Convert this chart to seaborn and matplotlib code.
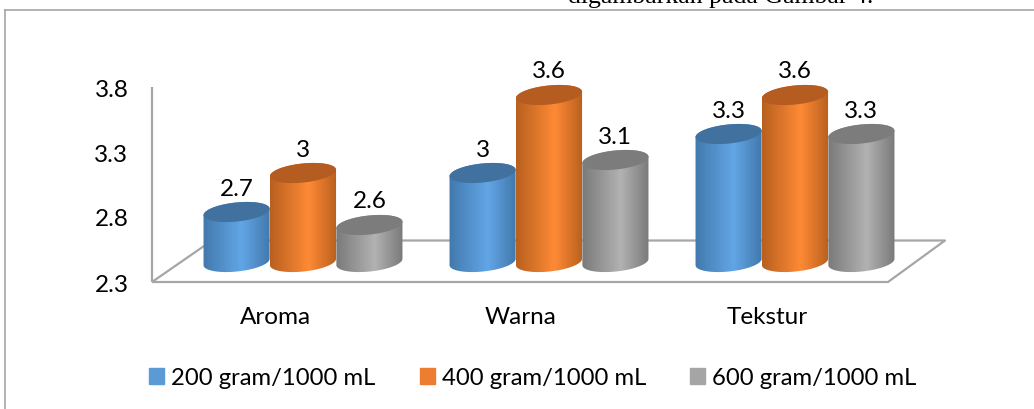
import numpy as np
import pandas as pd
import seaborn as sns
import matplotlib
matplotlib.use('Agg')
import matplotlib.pyplot as plt
from matplotlib.colors import LinearSegmentedColormap
from matplotlib.patches import Patch, Polygon

categories = ['Aroma', 'Warna', 'Tekstur']
series = ['200 gram/1000 mL', '400 gram/1000 mL', '600 gram/1000 mL']
val_200 = [2.7, 3, 3.3]
val_400 = [3, 3.6, 3.6]
val_600 = [2.6, 3.1, 3.3]
yticks = [2.3, 2.8, 3.3, 3.8]

base_colors = ['#5b9bd5', '#ed7d31', '#a5a5a5']
light_colors = ['#62a6e6', '#ff8a35', '#b2b2b2']
dark_colors = ['#4279ad', '#b8601f', '#7a7a7a']
top_colors = ['#41729f', '#b55c20', '#7c7c7c']
line_gray = '#a6a6a6'

W, H = 1034, 410
PX_X = 246.0    # pixels per category
PX_Y = 130.0    # pixels per y unit
FS = 17.5

sns.set_style('white')
plt.rcParams['font.family'] = ['Lato', 'DejaVu Sans']

df = pd.DataFrame({
    'cat': categories * 3,
    'series': np.repeat(series, 3),
    'val': val_200 + val_400 + val_600,
})

fig = plt.figure(figsize=(W / 100, H / 100), dpi=100)
ax = fig.add_axes([152 / W, 1 - 283 / H, 736 / W, 195 / H])
ax.patch.set_alpha(0)

sns.barplot(data=df, x='cat', y='val', hue='series', hue_order=series,
            palette=base_colors, width=0.81, gap=0, legend=False, ax=ax)
ax.set_xlim((152 - 303) / PX_X, (888 - 303) / PX_X)
ax.set_ylim(2.3, 3.8)


def pxline(xs, ys, color=line_gray, lw=1.6, z=0.5):
    ax.plot([x / W for x in xs], [1 - y / H for y in ys], color=color, lw=lw,
            transform=fig.transFigure, clip_on=False, zorder=z,
            solid_capstyle='butt')


# page frame and 3d floor
pxline([4, 1034], [10.5, 10.5], lw=1.2)
pxline([4.5, 4.5], [10, 410], lw=1.2)
pxline([152, 152], [88, 283])
pxline([152, 888, 945, 212, 152], [283, 283, 241.5, 241.5, 283])


def ellipse_pts(cx, cy, a, b, theta, t):
    # a, b in pixels, result in data units
    x = a * np.cos(t) * np.cos(theta) - b * np.sin(t) * np.sin(theta)
    y = a * np.cos(t) * np.sin(theta) + b * np.sin(t) * np.cos(theta)
    return cx + x / PX_X, cy + y / PX_Y


def draw_cylinder(bar, idx, z):
    # bar comes from seaborn, so x / width / height are on the axes scales
    cx = bar.get_x() + bar.get_width() / 2
    value = bar.get_height()
    a = bar.get_width() * PX_X / 2
    b, theta = 9.5, np.radians(6)
    top = value + 18 / PX_Y
    floor = 2.3 + 20 / PX_Y
    t0 = np.arctan2(-b * np.sin(theta), a * np.cos(theta))
    # right edge is at t0, left edge at t0 + pi
    t_low = np.linspace(t0 + np.pi, t0 + 2 * np.pi, 60)
    t_up = np.linspace(t0, t0 + np.pi, 60)
    lx, ly = ellipse_pts(cx, floor, a, b, theta, t_low)
    ux, uy = ellipse_pts(cx, top, a, b, theta, t_up)
    body = Polygon(np.c_[np.r_[lx, ux], np.r_[ly, uy]], closed=True,
                   facecolor='none', edgecolor='none', transform=ax.transData,
                   clip_on=False)
    ax.add_patch(body)
    cmap = LinearSegmentedColormap.from_list(
        'c', [(0, dark_colors[idx]), (0.58, light_colors[idx]), (1, dark_colors[idx])])
    x0, x1 = cx - bar.get_width() / 2, cx + bar.get_width() / 2
    im = ax.imshow(np.linspace(0, 1, 200)[None, :], cmap=cmap, aspect='auto',
                   extent=[x0, x1, 2.2, top + 0.1], zorder=z, interpolation='bilinear')
    im.set_clip_box(fig.bbox)
    im.set_clip_path(body)
    ex, ey = ellipse_pts(cx, top, a, b, theta, np.linspace(0, 2 * np.pi, 120))
    ax.fill(ex, ey, color=top_colors[idx], zorder=z + 0.01, lw=0, clip_on=False)
    ax.text(cx, top + 24 / PX_Y, f'{value:g}', ha='center', va='center',
            fontsize=FS, color='black', zorder=10)


# orange in front of its neighbours
orders = {0: 3, 1: 5, 2: 4}
for idx, cont in enumerate(ax.containers):
    for bar in cont:
        draw_cylinder(bar, idx, orders[idx])
        bar.set_visible(False)

ax.set_xlim((152 - 303) / PX_X, (888 - 303) / PX_X)
ax.set_ylim(2.3, 3.8)
ax.set_xlabel('')
ax.set_ylabel('')
ax.set_yticks(yticks)
ax.set_yticklabels([str(t) for t in yticks], fontsize=FS, color='black')
ax.set_xticks(np.arange(3) - 28 / PX_X)
ax.set_xticklabels(categories, fontsize=FS, color='black')
ax.tick_params(axis='both', length=0)
ax.tick_params(axis='x', pad=17)
ax.tick_params(axis='y', pad=17)
sns.despine(ax=ax, left=True, bottom=True)

handles = [Patch(color=c, label=s) for c, s in zip(base_colors, series)]
fig.legend(handles=handles, ncol=3, loc='center', bbox_to_anchor=(533 / W, 1 - 379 / H),
           frameon=False, fontsize=17.2, handlelength=0.62, handleheight=0.62,
           handletextpad=0.3, columnspacing=1.85, labelcolor='black')

fig.text(568 / W, 1 - 3 / H, 'digambarkan pada Gambar 4.', family='Liberation Serif',
         fontsize=18.5, color='black', ha='left', va='baseline')

fig.savefig('out.png', dpi=100)
plt.close(fig)
